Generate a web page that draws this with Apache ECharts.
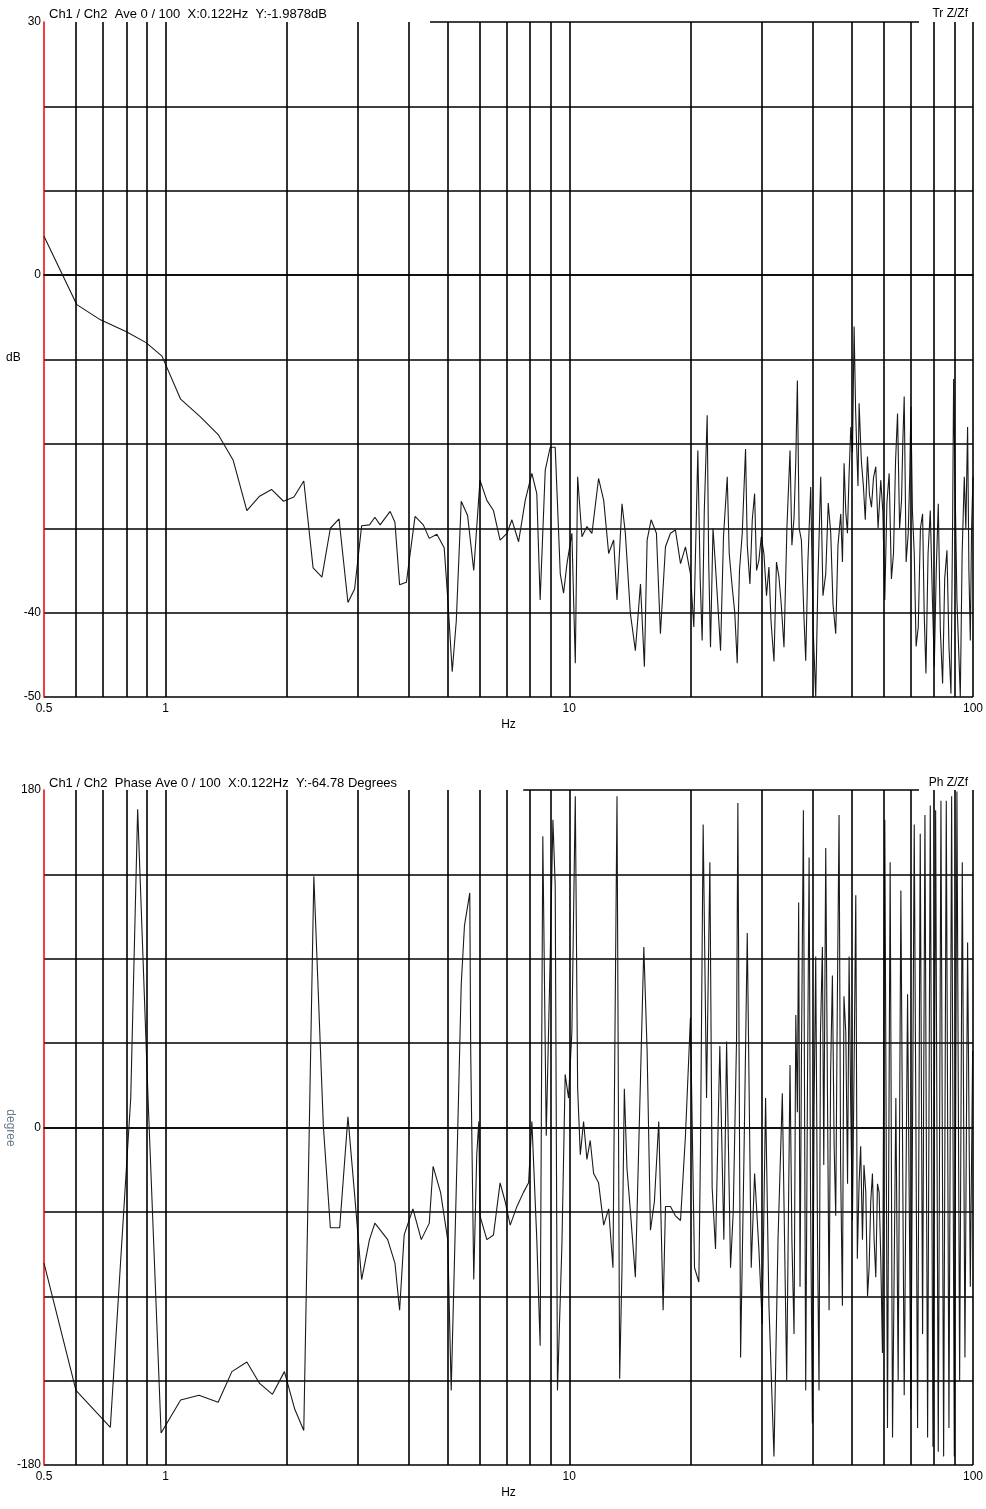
<!DOCTYPE html>
<html><head><meta charset="utf-8">
<script src="https://cdn.jsdelivr.net/npm/echarts@6/dist/echarts.min.js"></script>
<style>html,body{margin:0;padding:0;background:#fff}#c{width:986px;height:1509px}</style>
</head><body><div id="c"></div>
<script>
// Magnitude trace: [frequency Hz, dB]
const magPoints = [[0.5,4.6],[0.603,-3.5],[0.69,-5.3],[0.80,-6.7],[0.895,-8.0],[0.98,-9.6],[1.09,-14.7],[1.22,-16.8],[1.35,-18.9],[1.47,-21.9],[1.59,-27.9],[1.71,-26.2],[1.83,-25.4],[1.96,-26.8],[2.08,-26.3],[2.2,-24.4],[2.32,-34.7],[2.44,-35.8],[2.56,-30],[2.69,-28.9],[2.83,-38.8],[2.94,-37.2],[3.06,-29.7],[3.2,-29.6],[3.3,-28.7],[3.4,-29.6],[3.6,-28],[3.7,-29.3],[3.8,-36.7],[3.95,-36.4],[4.15,-28.6],[4.35,-29.6],[4.5,-31.2],[4.7,-30.7],[4.9,-32.3],[5.0,-38.3],[5.13,-47],[5.25,-41],[5.4,-26.8],[5.6,-28.5],[5.8,-35],
[6.01,-24.3],[6.25,-26.7],[6.49,-27.9],[6.74,-31.4],[7.01,-30.6],[7.21,-29],[7.49,-31.6],[7.78,-26.7],[8.08,-23.5],[8.31,-25.9],[8.47,-38.5],[8.72,-23.1],[8.97,-20.4],[9.23,-20.4],[9.50,-35.4],[9.68,-37.7],[9.87,-34.2],[10.15,-30.6],[10.35,-46],[10.49,-23.9],[10.75,-31],[11.06,-29.8],[11.38,-30.6],[11.82,-24.1],[12.17,-26.7],[12.52,-33],[12.88,-31.4],[13.13,-38.5],[13.51,-27.1],[13.77,-30.6],[14.17,-40.1],[14.58,-44.5],[15.01,-36.6],[15.35,-46.4],[15.59,-31.4],[15.95,-29],[16.44,-30.6],[16.82,-42.5],[17.31,-32.2],[17.81,-30.6],[18.32,-30.2],[18.86,-34.2],[19.40,-32.2],[19.96,-35.4],[20.35,-41.7],[20.82,-20.8],[21.1,-36],[21.34,-43.3],[21.6,-28],[21.96,-16.6],[22.15,-34],[22.38,-44.1],[22.7,-30],[23.03,-34.6],[23.4,-40],[23.70,-44.5],[24.1,-31],[24.62,-23.9],[24.9,-33],[25.33,-37],[25.7,-40],[26.06,-46],[26.4,-35],[26.82,-30.6],[27.33,-20.6],[27.6,-32],[28.02,-36.6],[28.4,-29],[28.78,-25.9],[29.1,-35],[29.49,-33.8],[29.9,-31],[30.35,-33],[30.8,-38],[31.23,-34.6],[31.6,-41],[32.14,-45.8],[32.6,-34],[33.07,-35.8],[33.5,-39],[34.03,-44.1],[34.6,-30],[35.22,-20.8],[35.6,-32],[36.04,-28.7],[36.4,-22],[36.73,-12.5],[37.1,-30],[37.58,-31.4],[38.1,-40],[38.52,-45.7],[39.0,-34],[39.63,-25.1],[40.2,-42],[40.78,-50],[41.3,-36],[41.96,-23.9],[42.5,-38],[43.18,-35.4],[43.8,-27],[44.43,-30.6],[45.0,-39],[45.71,-42.5],[46.3,-32],[47.04,-28.3],[47.5,-34],[47.94,-22.3],[48.4,-28],[48.87,-30.6],[49.3,-24],[49.81,-18],[50.3,-21],[50.76,-6.1],[51.2,-16],[51.55,-20.8],[51.9,-25],[52.23,-15.2],[52.9,-22],[53.54,-25.1],[54.1,-29],[54.78,-21.5],[55.4,-26],[56.05,-27.5],[56.7,-24],[57.44,-22.7],[58.2,-30],[59.10,-24.3],[59.8,-28],[60.47,-38.5],[61.2,-27],[61.99,-23.5],[62.8,-36],[63.55,-33],[64.3,-22],[65.03,-16.4],[65.8,-30],[66.53,-26.7],[67.0,-20],[67.55,-14.4],[68.3,-34],[69.12,-30.6],[69.7,-24],[70.18,-15.6],[70.8,-28],[71.53,-33],[72.3,-44],[73.19,-41.7],[74.1,-30],[75.02,-28.3],[75.7,-40],[76.47,-47.2],[77.4,-33],[78.38,-27.9],[79.3,-38],[80.19,-46.4],[81.1,-35],[82.04,-27.1],[83.0,-42],[84.09,-48.4],[85.1,-36],[86.20,-32.6],[87.2,-44],[88.20,-49.6],[89.0,-30],[89.54,-12.3],[90.3,-25],[91.25,-38.5],[92.1,-44],[93.02,-50],[94.0,-33],[95.16,-23.9],[96.0,-30],[96.97,-18],[97.7,-35],[98.49,-43.3],[99.2,-30],[100,-23.9]];
// Phase trace: [frequency Hz, degree]
const phPoints = [[0.5,-72.3],[0.6,-140.2],[0.73,-159.9],[0.82,15.7],[0.853,169.7],[0.905,15.7],[0.975,-162.9],[1.09,-145.3],[1.21,-142.8],[1.35,-146.5],[1.46,-130.2],[1.59,-125.1],[1.71,-136.5],[1.84,-142.3],[1.97,-130.2],[2.09,-150.3],[2.2,-161.6],[2.33,134],[2.46,0.6],[2.56,-53.5],[2.7,-53.5],[2.83,5.7],[2.95,-39.6],[3.06,-81.1],[3.2,-59.8],[3.3,-51],[3.55,-59.8],[3.7,-72.3],[3.8,-97.5],[3.9,-57.3],[4.1,-43.4],[4.3,-59.8],[4.5,-51],[4.6,-20.7],[4.8,-34.6],[5.0,-59.8],[5.1,-140.2],[5.3,3.2],[5.4,76.1],[5.5,107.5],[5.67,125.1],[5.7,40.9],[5.8,-81.1],[5.9,-14.5],[5.97,3.2],
[6.01,-47.1],[6.25,-59.8],[6.49,-57.3],[6.74,-29.5],[6.94,-39.6],[7.14,-52.1],[7.42,-42.1],[7.70,-34.6],[7.93,-29.5],[8.08,3.2],[8.31,-59.8],[8.47,-116.4],[8.60,155.3],[8.77,-4.4],[8.97,91.2],[9.11,164.1],[9.23,128.9],[9.35,-140.2],[9.59,-62.3],[9.77,28.3],[9.96,15.7],[10.15,50.9],[10.35,176.7],[10.49,20.7],[10.65,-14.5],[10.85,3.2],[11.06,-17],[11.27,-6.9],[11.49,-24.5],[11.82,-29.5],[12.17,-52.1],[12.52,-43.4],[12.83,-74.8],[13.13,176.7],[13.33,-134],[13.51,-74.8],[13.69,20.7],[13.90,-22],[14.17,-44.6],[14.58,-79.9],[15.01,25.8],[15.30,96.2],[15.59,40.9],[15.89,-54.8],[16.25,-39.6],[16.66,3.2],[17.08,-97.5],[17.31,-42.1],[17.81,-42.1],[18.32,-47.1],[18.86,-49.6],[19.40,-4.4],[19.96,58.5],[20.43,-74.8],[20.94,-82.4],[21.14,-9.4],[21.46,161.6],[21.88,15.7],[22.30,141.5],[22.59,-32.1],[23.03,-64.8],[23.60,43.4],[24.15,-59.8],[24.53,45.9],[25.09,-74.8],[25.48,-44.6],[25.97,48.4],[26.16,173],[26.57,-122.7],[27.08,-17],[27.60,103.7],[28.23,-74.8],[28.78,-24.5],[29.49,-64.8],[30.06,-105],[30.64,15.7],[31.23,-95],[32.14,-175.4],[32.89,-59.8],[33.71,18.2],[34.56,-135.2],[35.22,33.3],[35.6,-60],[36.04,-110.1],[36.4,60],[36.73,8.2],[37.0,120],[37.29,-84.9],[37.6,40],[38.01,169.2],[38.52,-140.2],[38.9,20],[39.27,144],[39.6,-40],[40.02,-157.8],[40.4,10],[40.78,91.2],[41.2,-60],[41.56,-140.2],[41.9,50],[42.36,96.2],[42.7,-20],[43.18,149.1],[43.6,20],[44.01,-97.5],[44.4,30],[44.85,81.1],[45.3,-10],[45.71,-47.1],[46.1,60],[46.59,166.6],[47.0,-20],[47.49,-95],[47.9,70],[48.41,50.9],[48.9,-30],[49.33,91.2],[49.8,10],[50.28,-49.6],[50.8,40],[51.25,123.9],[51.7,-70],[52.23,-29.5],[52.7,-10],[53.24,-59.8],[53.7,-20],[54.26,-34.6],[54.8,-90],[55.30,-74.8],[55.8,-40],[56.36,-24.5],[56.9,-60],[57.44,-79.9],[58.0,-30],[58.55,-34.6],[59.1,-70],[59.67,-120.2],[60.47,164.1],[61.41,-160.3],[62.35,141.5],[63.20,-165.3],[64.41,15.7],[65.27,-135.2],[66.28,126.4],[67.55,-142.8],[68.86,71],[70.18,-150.3],[71.53,161.6],[72.91,-160.3],[74.02,156.6],[75.02,-110.1],[76.03,166.6],[77.20,-165.3],[78.38,171.7],[79.59,-170.3],[80.81,169.2],[82.04,-172.9],[83.30,174.2],[84.58,-175.4],[85.87,174.2],[87.19,-160.3],[88.53,176.7],[89.89,-175.4],[91.25,179.2],[92.67,-135.2],[94.08,141.5],[95.52,-122.7],[96.97,98.7],[98.49,-84.9],[99.8,40.9]];
const freqGrid = [0.6,0.7,0.8,0.9,1,2,3,4,5,6,7,8,9,10,20,30,40,50,60,70,80,90,100];
const xLabels = [0.5,1,10,100];
const magLabels = [30,0,-40,-50];
const phLabels = [180,0,-180];
const magTitle = 'Ch1 / Ch2  Ave 0 / 100  X:0.122Hz  Y:-1.9878dB';
const phTitle = 'Ch1 / Ch2  Phase Ave 0 / 100  X:0.122Hz  Y:-64.78 Degrees';

const font = 'Liberation Sans, Arial, sans-serif';
const chart = echarts.init(document.getElementById('c'), null, {renderer:'canvas'});
function xAxis(idx){
  return {type:'log', gridIndex:idx, min:0.5, max:100, logBase:10,
    axisLine:{show:true,lineStyle:{color:'#000',width:1.5}}, axisTick:{show:false},
    splitLine:{show:false},
    axisLabel:{showMinLabel:true,color:'#000',fontFamily:font,fontSize:12,margin:6,
      formatter:v=>xLabels.some(l=>Math.abs(l-v)<1e-6)?String(v):''},
    name:'Hz', nameLocation:'middle', nameGap:22, nameTextStyle:{color:'#000',fontFamily:font,fontSize:12}};
}
function yAxis(idx,min,max,step,labels){
  const cols = ['#000','#000','#000','#000','#000','#000','#000','#000','rgba(0,0,0,0)'];
  return {type:'value', gridIndex:idx, min:min, max:max, interval:step,
    axisLine:{show:true,lineStyle:{color:'#e00',width:1.5}}, axisTick:{show:false},
    splitLine:{show:true,lineStyle:{color:cols,width:1.6}},
    axisLabel:{color:'#000',fontFamily:font,fontSize:12,margin:3,verticalAlign:'middle',
      formatter:v=>labels.includes(v)?String(v):''}};
}
function gridLines(yTop, startF, endF){
  return {silent:true, symbol:'none', label:{show:false}, animation:false,
    lineStyle:{color:'#000',width:1.6,type:'solid'},
    data: freqGrid.map(f=>({xAxis:f})).concat([[{coord:[startF,yTop]},{coord:[endF,yTop]}]])};
}
chart.setOption({
  animation:false,
  title:[
    {text:magTitle,left:44,top:3,textStyle:{fontSize:13,fontWeight:'normal',color:'#000',fontFamily:font}},
    {text:'Tr Z/Zf',right:13,top:3,textStyle:{fontSize:12,fontWeight:'normal',color:'#000',fontFamily:font}},
    {text:phTitle,left:44,top:772,textStyle:{fontSize:13,fontWeight:'normal',color:'#000',fontFamily:font}},
    {text:'Ph Z/Zf',right:13,top:772,textStyle:{fontSize:12,fontWeight:'normal',color:'#000',fontFamily:font}}
  ],
  graphic:[
    {type:'text',left:6,top:352,style:{text:'dB',fill:'#000',font:'12px '+font}},
    {type:'text',x:10,y:1128,rotation:Math.PI/2*-1,style:{text:'degree',fill:'#6b7a8c',font:'12px '+font,align:'center',verticalAlign:'middle'}}
  ],
  grid:[{left:44,top:22,right:13,height:675},{left:44,top:790,right:13,height:675}],
  xAxis:[xAxis(0),xAxis(1)],
  yAxis:[yAxis(0,-50,30,10,magLabels),yAxis(1,-180,180,45,phLabels)],
  series:[
    {type:'line',xAxisIndex:0,yAxisIndex:0,data:magPoints,showSymbol:false,clip:true,
      lineStyle:{color:'#1a1a1a',width:1.1},markLine:gridLines(30,4.52,73.5),z:3},
    {type:'line',xAxisIndex:1,yAxisIndex:1,data:phPoints,showSymbol:false,clip:true,
      lineStyle:{color:'#1a1a1a',width:1.1},markLine:gridLines(180,7.69,73.5),z:3}
  ]
});
</script></body></html>
